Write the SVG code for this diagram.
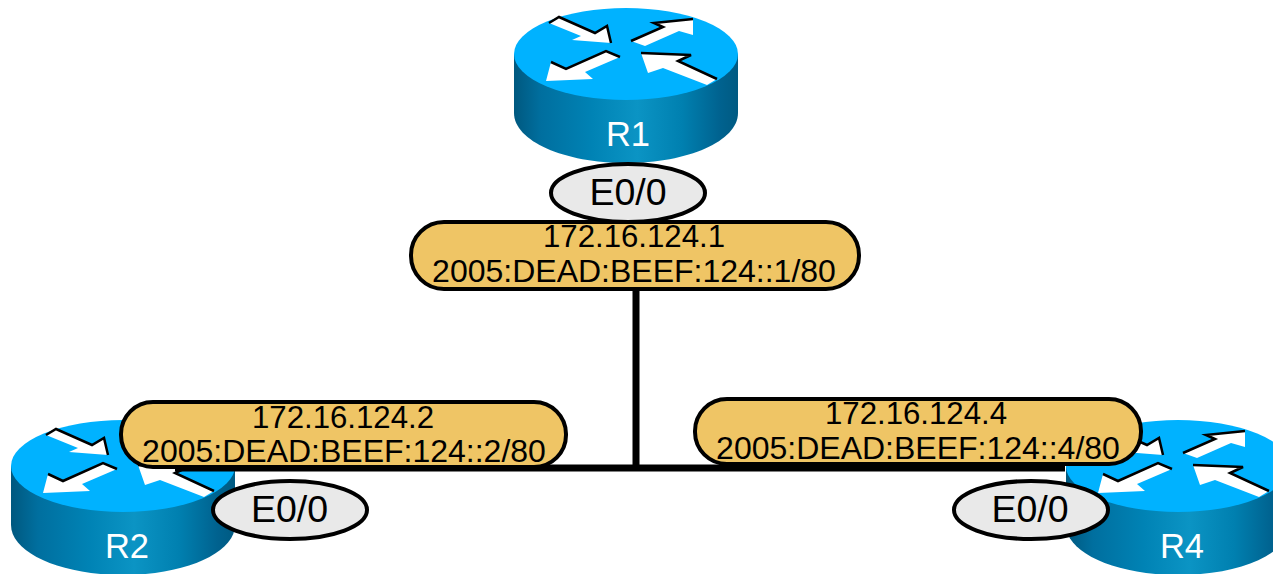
<svg xmlns="http://www.w3.org/2000/svg" width="1273" height="574" viewBox="0 0 1273 574">
<style>
.lbl{font-family:"Liberation Sans",Arial,sans-serif;fill:#000;text-anchor:middle}
.ip1{font-size:31.2px}
.ip2{font-size:32px}
.if{font-size:37.5px}
.rn{font-family:"Liberation Sans",Arial,sans-serif;fill:#fff;text-anchor:middle;font-size:34.5px}
.pill{fill:#efc565;stroke:#000;stroke-width:4}
.port{fill:#e9e9e9;stroke:#000;stroke-width:4}
.link{stroke:#000;stroke-width:7;fill:none}
.ar{fill:#fff}
.sh{fill:none;stroke:#000;stroke-width:2.5}
</style>
<defs>
<linearGradient id="side" x1="0" x2="1" y1="0" y2="0">
<stop offset="0" stop-color="#00587f"/>
<stop offset="0.12" stop-color="#006f9f"/>
<stop offset="0.35" stop-color="#0083b5"/>
<stop offset="0.55" stop-color="#0b94c4"/>
<stop offset="0.75" stop-color="#0080b0"/>
<stop offset="0.92" stop-color="#00628f"/>
<stop offset="1" stop-color="#005a82"/>
</linearGradient>
<g id="router">
<path d="M514 54V113C514 141 564 163 626 163S738 141 738 113V54Z" fill="url(#side)"/>
<ellipse cx="626" cy="54" rx="112" ry="46" fill="#00b2ff"/>
<polygon class="ar" points="549,23 559,17 595,33 607,26 611,43 572,40 581,36"/>
<polyline class="sh" points="549,23 559,17 595,33 607,26 611,43"/>
<polygon class="ar" points="631,41 663,27 654,23 693,19 693,35 679,31 645,46"/>
<polyline class="sh" points="631,41 663,27 654,23 693,19"/>
<polygon class="ar" points="606,51 620,57 585,72 593,79 546,81 551,62 566,69"/>
<polyline class="sh" points="551,62 566,69 606,51 620,57"/>
<polygon class="ar" points="641,53 691,55 678,61 717,79 707,85 663,68 648,73"/>
<polyline class="sh" points="641,53 691,55 678,61 717,79"/>
</g>
</defs>
<g id="node-R1">
<use href="#router"/>
<text class="rn" x="628" y="146">R1</text>
</g>
<g id="node-R2">
<use href="#router" transform="translate(-503 412)"/>
<text class="rn" x="127" y="558">R2</text>
</g>
<g id="node-R4">
<use href="#router" transform="translate(552 412)"/>
<text class="rn" x="1182" y="558">R4</text>
</g>
<g id="connectors">
<path class="link" d="M636 289V467"/>
<path class="link" d="M175 468H1065"/>
</g>
<g id="ip-R1">
<rect class="pill" x="411" y="222" width="448" height="67" rx="33" ry="33"/>
<text class="lbl ip1" x="634" y="247">172.16.124.1</text>
<text class="lbl ip2" x="634" y="282">2005:DEAD:BEEF:124::1/80</text>
</g>
<g id="ip-R2">
<rect class="pill" x="121" y="402" width="445" height="65" rx="32" ry="32"/>
<text class="lbl ip1" x="343" y="428">172.16.124.2</text>
<text class="lbl ip2" x="344" y="462">2005:DEAD:BEEF:124::2/80</text>
</g>
<g id="ip-R4">
<rect class="pill" x="695" y="399" width="446" height="65" rx="32" ry="32"/>
<text class="lbl ip1" x="916" y="424">172.16.124.4</text>
<text class="lbl ip2" x="918" y="459">2005:DEAD:BEEF:124::4/80</text>
</g>
<g id="port-R1">
<ellipse class="port" cx="628" cy="193" rx="77" ry="29"/>
<text class="lbl if" x="628" y="204.5">E0/0</text>
</g>
<g id="port-R2">
<ellipse class="port" cx="290" cy="510" rx="77" ry="29"/>
<text class="lbl if" x="289.5" y="521.5">E0/0</text>
</g>
<g id="port-R4">
<ellipse class="port" cx="1031" cy="510" rx="77" ry="29"/>
<text class="lbl if" x="1030" y="521.5">E0/0</text>
</g>
</svg>
